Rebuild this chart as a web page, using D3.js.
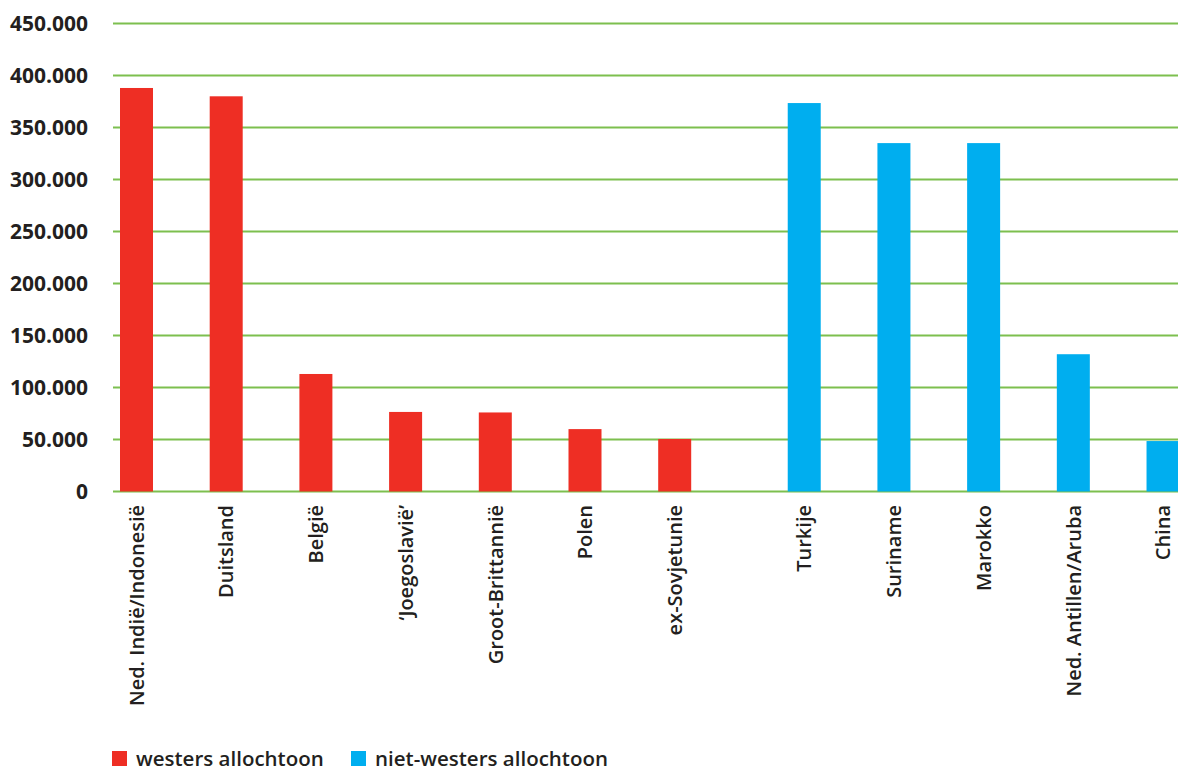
<!DOCTYPE html>
<html>
<head>
<meta charset="utf-8">
<script src="https://cdn.jsdelivr.net/npm/d3@7"></script>
<style>
  html, body { margin: 0; padding: 0; background: #fff; }
  svg { display: block; }
  text { font-family: "Open Sans", "Noto Sans", sans-serif; fill: #231f20; }
</style>
</head>
<body>
<svg id="chart" width="1178" height="771"></svg>
<script>
// Herkomstgroepen (aantallen personen)
const westersLanden = ["Ned. Indië/Indonesië", "Duitsland", "België", "‘Joegoslavië’", "Groot-Brittannië", "Polen", "ex-Sovjetunie"];
const westersWaarden = [388000, 380000, 113000, 76500, 76000, 60000, 50500];

const nietWestersLanden = ["Turkije", "Suriname", "Marokko", "Ned. Antillen/Aruba", "China"];
const nietWestersWaarden = [373500, 335000, 335000, 132000, 48500];

const yTicks = [0, 50000, 100000, 150000, 200000, 250000, 300000, 350000, 400000, 450000];
const legendLabels = ["westers allochtoon", "niet-westers allochtoon"];
const colors = ["#ee2e24", "#00aeef"];

const rows = [
  ...westersLanden.map((c, i) => ({ land: c, waarde: westersWaarden[i], groep: 0, slot: i })),
  ...nietWestersLanden.map((c, i) => ({ land: c, waarde: nietWestersWaarden[i], groep: 1, slot: westersLanden.length + i + 0.444 }))
];

const svg = d3.select("#chart");
const plotLeft = 113, plotRight = 1178, yTop = 23.5, yBottom = 491.5;

const y = d3.scaleLinear().domain([0, 450000]).range([yBottom, yTop]);
// slot index -> left edge of bar
const x = d3.scaleLinear().domain([0, 1]).range([120, 209.7]);
const barW = 33;

const fmt = v => d3.format(",")(v).replace(/,/g, ".");

// gridlines
svg.append("g")
  .selectAll("line")
  .data(yTicks)
  .join("line")
  .attr("x1", plotLeft).attr("x2", plotRight)
  .attr("y1", d => y(d)).attr("y2", d => y(d))
  .attr("stroke", "#7dbf4f").attr("stroke-width", 2);

// y-axis labels
const yAxis = d3.axisLeft(y).tickValues(yTicks).tickFormat(fmt).tickSize(0).tickPadding(0);
const yg = svg.append("g").attr("transform", "translate(88,0)").call(yAxis);
yg.select(".domain").remove();
yg.selectAll("text")
  .attr("font-size", 21).attr("font-weight", 700)
  .attr("font-family", "\"Open Sans\", sans-serif")
  .attr("fill", "#231f20")
  .attr("dy", "0.35em");

// bars
svg.append("g")
  .selectAll("rect")
  .data(rows)
  .join("rect")
  .attr("x", d => x(d.slot))
  .attr("y", d => y(d.waarde))
  .attr("width", barW)
  .attr("height", d => y(0) - y(d.waarde))
  .attr("fill", d => colors[d.groep]);

// category labels, rotated
svg.append("g")
  .selectAll("text")
  .data(rows)
  .join("text")
  .attr("transform", d => `translate(${x(d.slot) + barW / 2},505) rotate(-90)`)
  .attr("text-anchor", "end")
  .attr("dy", "0.36em")
  .attr("font-size", 20)
  .attr("font-weight", 600)
  .text(d => d.land);

// legend
const legendX = [112, 351];
const lg = svg.append("g")
  .selectAll("g")
  .data(legendLabels)
  .join("g")
  .attr("transform", (d, i) => `translate(${legendX[i]},751)`);
lg.append("rect").attr("width", 15).attr("height", 15).attr("fill", (d, i) => colors[i]);
lg.append("text")
  .attr("x", 24).attr("y", 15)
  .attr("font-size", 20.5).attr("font-weight", 600)
  .text(d => d);
</script>
</body>
</html>
